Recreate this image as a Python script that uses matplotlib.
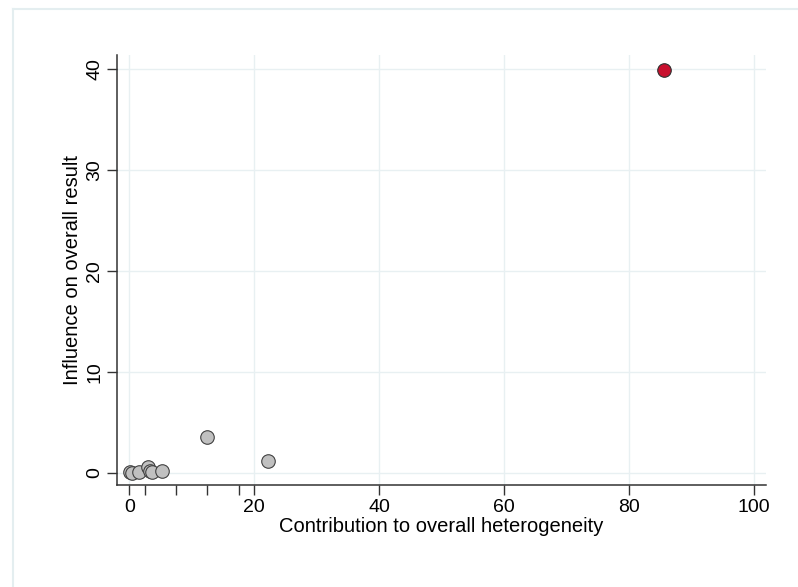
import matplotlib
matplotlib.use("Agg")
import matplotlib.pyplot as plt
from matplotlib.lines import Line2D

plt.rcParams['font.family'] = ['Liberation Sans', 'DejaVu Sans']

# contribution to heterogeneity (x) vs influence on overall result (y)
contrib = [0.1, 0.4, 1.6, 3.0, 3.3, 3.6, 5.2, 12.5, 22.2]
influence = [0.05, 0.02, 0.05, 0.6, 0.15, 0.1, 0.2, 3.6, 1.2]
outlier_contrib = [85.7]
outlier_influence = [39.9]

x_ticks = [0, 20, 40, 60, 80, 100]
x_minor = [2.5, 7.5, 12.5, 17.5]
y_ticks = [0, 10, 20, 30, 40]

fig = plt.figure(figsize=(7.98, 5.87), dpi=100)
ax = fig.add_axes([0.1466, 0.1738, 0.8134, 0.7325])

grid_col = '#e8f0f2'
for v in x_ticks:
    ax.axvline(v, color=grid_col, lw=1.0, zorder=0)
for v in y_ticks:
    ax.axhline(v, color=grid_col, lw=1.0, zorder=0)

ax.scatter(contrib, influence, s=95, c='#c0c0c0', edgecolors='#404040', linewidths=0.8, zorder=3)
ax.scatter(outlier_contrib, outlier_influence, s=95, c='#c8102e', edgecolors='#303030', linewidths=0.8, zorder=3)

ax.set_xlim(-2, 102)
ax.set_ylim(-1.2, 41.4)
ax.set_xticks(x_ticks)
ax.set_xticks(x_minor, minor=True)
ax.set_yticks(y_ticks)
ax.set_yticklabels([str(v) for v in y_ticks], rotation=90, va='center')
ax.tick_params(axis='both', which='both', length=7, width=1, color='#333333', labelsize=14)
ax.tick_params(axis='x', pad=3)
ax.tick_params(axis='y', pad=3)

for side in ['top', 'right']:
    ax.spines[side].set_visible(False)
for side in ['left', 'bottom']:
    ax.spines[side].set_color('#333333')
    ax.spines[side].set_linewidth(1.1)

ax.set_xlabel('Contribution to overall heterogeneity', fontsize=14.5, labelpad=1)
ax.set_ylabel('Influence on overall result', fontsize=14.5, labelpad=3)

# light frame (left and top)
fig.add_artist(Line2D([13/798, 13/798], [0, 1 - 9/587], transform=fig.transFigure, color='#e4eef0', lw=1.5))
fig.add_artist(Line2D([13/798, 1], [1 - 9/587, 1 - 9/587], transform=fig.transFigure, color='#e4eef0', lw=1.5))

fig.savefig('out.png', dpi=100)
